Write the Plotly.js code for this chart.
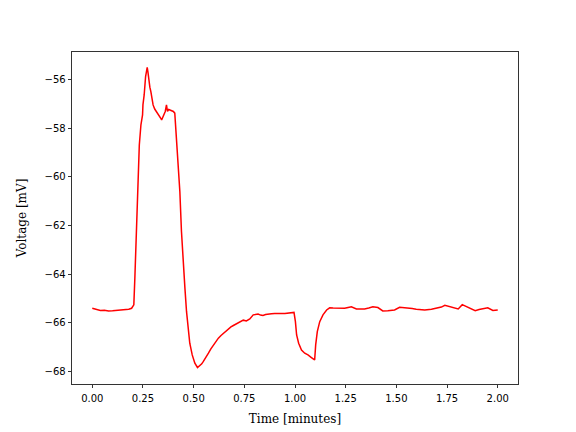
<!DOCTYPE html>
<html>
<head>
<meta charset="utf-8">
<script src="https://cdn.plot.ly/plotly-3.0.1.min.js"></script>
<style>html,body{margin:0;padding:0;background:#fff;}#chart{width:576px;height:432px;}</style>
</head>
<body>
<div id="chart"></div>
<script>
const timeMinutes = [0.000,0.020,0.040,0.060,0.080,0.100,0.120,0.140,0.160,0.180,0.194,0.205,0.210,0.215,0.223,0.232,0.240,0.248,0.250,0.256,0.263,0.268,0.271,0.275,0.279,0.284,0.289,0.295,0.300,0.308,0.317,0.325,0.333,0.338,0.342,0.348,0.355,0.360,0.366,0.371,0.377,0.383,0.390,0.400,0.407,0.416,0.424,0.432,0.440,0.448,0.457,0.465,0.473,0.481,0.493,0.506,0.519,0.531,0.540,0.548,0.560,0.573,0.585,0.598,0.610,0.622,0.635,0.647,0.660,0.671,0.684,0.696,0.708,0.720,0.733,0.745,0.760,0.777,0.794,0.806,0.818,0.830,0.842,0.855,0.867,0.884,0.900,0.916,0.933,0.950,0.966,0.980,0.995,1.002,1.008,1.018,1.032,1.048,1.064,1.081,1.097,1.102,1.110,1.122,1.138,1.156,1.171,1.188,1.204,1.225,1.245,1.262,1.278,1.303,1.323,1.343,1.364,1.384,1.409,1.433,1.458,1.491,1.516,1.537,1.557,1.578,1.598,1.620,1.640,1.673,1.706,1.722,1.739,1.755,1.772,1.788,1.805,1.825,1.840,1.854,1.872,1.889,1.908,1.927,1.951,1.976,2.000];
const voltageMV = [-65.41,-65.46,-65.50,-65.49,-65.52,-65.51,-65.50,-65.48,-65.47,-65.45,-65.41,-65.27,-64.17,-62.80,-60.46,-58.68,-57.85,-57.44,-57.03,-56.62,-55.86,-55.60,-55.48,-55.70,-56.07,-56.30,-56.48,-56.80,-57.03,-57.20,-57.30,-57.42,-57.51,-57.58,-57.65,-57.55,-57.44,-57.30,-57.03,-57.30,-57.22,-57.24,-57.28,-57.30,-57.37,-58.54,-59.50,-60.60,-62.25,-63.62,-64.58,-65.55,-66.23,-66.85,-67.33,-67.67,-67.85,-67.77,-67.70,-67.60,-67.45,-67.26,-67.08,-66.92,-66.77,-66.64,-66.53,-66.44,-66.34,-66.26,-66.18,-66.12,-66.07,-66.03,-65.95,-65.90,-65.93,-65.85,-65.68,-65.66,-65.65,-65.69,-65.71,-65.67,-65.65,-65.64,-65.63,-65.64,-65.63,-65.62,-65.61,-65.60,-65.58,-65.96,-66.51,-66.85,-67.13,-67.26,-67.33,-67.44,-67.54,-66.92,-66.37,-65.96,-65.68,-65.48,-65.39,-65.40,-65.41,-65.40,-65.41,-65.38,-65.35,-65.44,-65.45,-65.44,-65.40,-65.35,-65.38,-65.52,-65.51,-65.48,-65.37,-65.38,-65.39,-65.42,-65.45,-65.47,-65.48,-65.45,-65.41,-65.36,-65.29,-65.33,-65.37,-65.41,-65.44,-65.26,-65.32,-65.37,-65.45,-65.51,-65.46,-65.42,-65.39,-65.50,-65.48];

const trace = {
  x: timeMinutes, y: voltageMV,
  type: 'scatter', mode: 'lines',
  line: {color: '#ff0000', width: 1.5},
  hoverinfo: 'skip', showlegend: false
};

const axisCommon = {
  showgrid: false, zeroline: false,
  showline: true, mirror: true, linecolor: '#000', linewidth: 0.8,
  ticks: 'outside', ticklen: 3.5, tickwidth: 0.8, tickcolor: '#000',
  tickfont: {family: 'DejaVu Sans', size: 10, color: '#000'}
};

const layout = {
  width: 576, height: 432,
  margin: {l: 72, r: 58, t: 52, b: 48},
  paper_bgcolor: '#fff', plot_bgcolor: '#fff',
  xaxis: Object.assign({}, axisCommon, {
    range: [-0.1, 2.1],
    tickvals: [0, 0.25, 0.5, 0.75, 1.0, 1.25, 1.5, 1.75, 2.0],
    ticktext: ['0.00','0.25','0.50','0.75','1.00','1.25','1.50','1.75','2.00'],
    ticklabelstandoff: 2,
    title: {text: 'Time [minutes]', font: {family: 'DejaVu Serif', size: 12, color: '#000'}, standoff: 11}
  }),
  yaxis: Object.assign({}, axisCommon, {
    range: [-68.53, -54.85],
    tickvals: [-56, -58, -60, -62, -64, -66, -68],
    title: {text: 'Voltage [mV]', font: {family: 'DejaVu Serif', size: 12, color: '#000'}, standoff: 15}
  })
};

Plotly.newPlot('chart', [trace], layout, {staticPlot: true, displayModeBar: false});
</script>
</body>
</html>
